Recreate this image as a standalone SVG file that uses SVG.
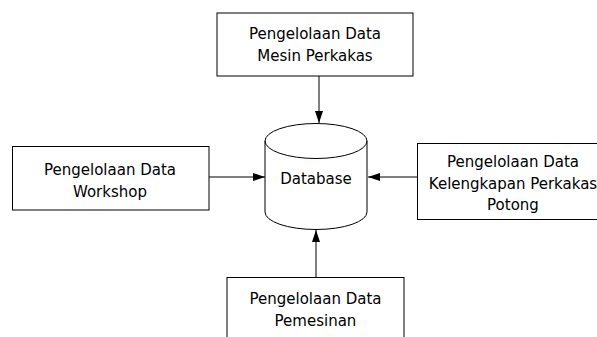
<svg xmlns="http://www.w3.org/2000/svg" width="597" height="337" viewBox="0 0 597 337">
<style>
.box{fill:#fff;stroke:#000;stroke-width:1}
.t{font-family:"DejaVu Sans",Verdana,sans-serif;font-size:15px;fill:#000;text-anchor:middle}
.c{fill:none;stroke:#000;stroke-width:1}
</style>
<defs>
<marker id="ah" markerWidth="12" markerHeight="8" refX="12" refY="4" orient="auto" markerUnits="userSpaceOnUse">
<path d="M0,0 L12,4 L0,8 Z" fill="#000"/>
</marker>
</defs>
<rect width="597" height="337" fill="#fff"/>
<g id="connectors">
<line class="c" x1="319" y1="76" x2="319" y2="123" marker-end="url(#ah)"/>
<line class="c" x1="209" y1="177" x2="265" y2="177" marker-end="url(#ah)"/>
<line class="c" x1="417" y1="177" x2="368" y2="177" marker-end="url(#ah)"/>
<line class="c" x1="316" y1="277" x2="316" y2="230" marker-end="url(#ah)"/>
</g>
<g id="database">
<path class="box" d="M265,141 L265,212 A51,17.5 0 0 0 367,212 L367,141 A51,17.5 0 0 0 265,141 Z"/>
<path class="c" d="M265,141 A51,17.5 0 0 0 367,141"/>
<text class="t" x="316" y="184">Database</text>
</g>
<g id="mesin">
<rect class="box" x="217" y="13" width="196" height="63"/>
<text class="t" x="315" y="39">Pengelolaan Data</text>
<text class="t" x="315" y="61">Mesin Perkakas</text>
</g>
<g id="workshop">
<rect class="box" x="12.5" y="146.5" width="196.5" height="63.5"/>
<text class="t" x="110" y="175">Pengelolaan Data</text>
<text class="t" x="110" y="197">Workshop</text>
</g>
<g id="kelengkapan">
<rect class="box" x="417.5" y="143.5" width="192" height="76"/>
<text class="t" x="513" y="167">Pengelolaan Data</text>
<text class="t" x="513" y="188.5">Kelengkapan Perkakas</text>
<text class="t" x="513" y="210">Potong</text>
</g>
<g id="pemesinan">
<rect class="box" x="227" y="277.5" width="177" height="70"/>
<text class="t" x="315.5" y="304">Pengelolaan Data</text>
<text class="t" x="315.5" y="326">Pemesinan</text>
</g>
</svg>
